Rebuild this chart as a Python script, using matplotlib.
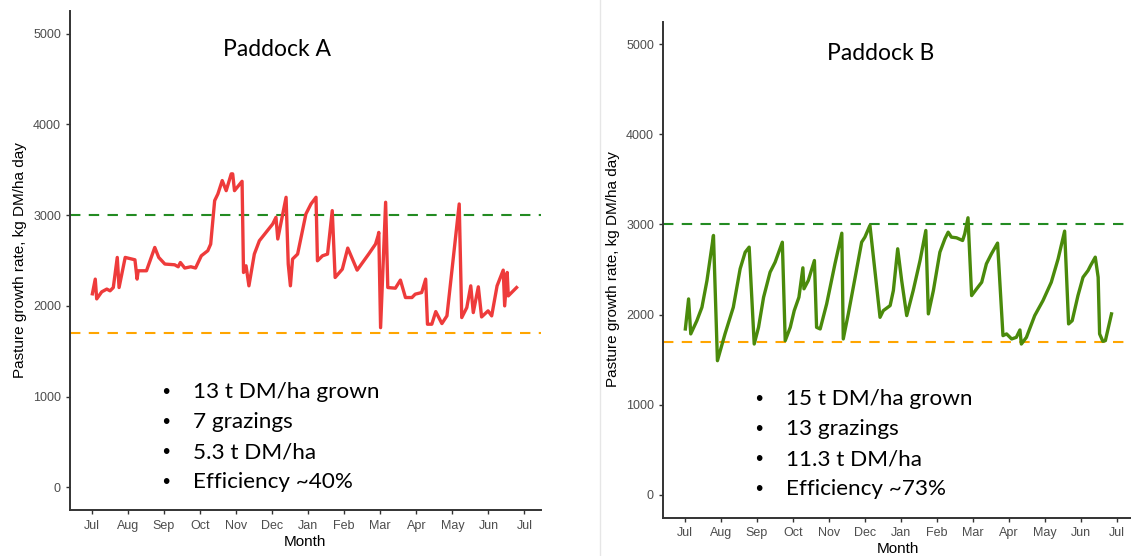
import matplotlib
matplotlib.use("Agg")
import matplotlib.pyplot as plt
import numpy as np

# months after 1 July (0 = Jul, 12 = next Jul), growth in kg DM/ha
month_a = [0.02, 0.10, 0.14, 0.28, 0.42, 0.51, 0.60, 0.71, 0.76, 0.93, 1.20, 1.26, 1.29,
           1.52, 1.75, 1.86, 2.03, 2.30, 2.40, 2.46, 2.58, 2.75, 2.88, 3.04, 3.22, 3.30,
           3.41, 3.50, 3.62, 3.73, 3.87, 3.91, 3.96, 4.17, 4.21, 4.28, 4.36, 4.51, 4.65,
           5.02, 5.11, 5.16, 5.39, 5.45, 5.51, 5.57, 5.71, 5.94, 6.08, 6.22, 6.26, 6.40,
           6.54, 6.67, 6.75, 6.95, 7.10, 7.36, 7.68, 7.87, 7.94, 7.96, 8.01, 8.15, 8.21,
           8.42, 8.56, 8.70, 8.88, 8.97, 9.15, 9.26, 9.31, 9.43, 9.54, 9.71, 9.85, 10.19,
           10.26, 10.40, 10.51, 10.58, 10.72, 10.81, 10.99, 11.09, 11.24, 11.41, 11.45,
           11.52, 11.55, 11.78]
growth_a = [2133, 2295, 2077, 2155, 2185, 2166, 2202, 2534, 2202, 2534, 2508, 2295, 2387,
            2387, 2644, 2534, 2461, 2453, 2431, 2478, 2417, 2431, 2417, 2552, 2608, 2681,
            3160, 3234, 3381, 3270, 3455, 3455, 3270, 3373, 2368, 2442, 2221, 2571, 2718,
            2903, 2976, 2737, 3197, 2461, 2221, 2516, 2571, 3013, 3123, 3197, 2497, 2552,
            2571, 3050, 2313, 2405, 2637, 2394, 2571, 2681, 2773, 2810, 1760, 3142, 2202,
            2195, 2284, 2092, 2092, 2129, 2147, 2295, 1798, 1798, 1937, 1805, 1890, 3123,
            1871, 1981, 2221, 1926, 2210, 1878, 1945, 1890, 2221, 2394, 2000,
            2368, 2110, 2202]

month_b = [0.02, 0.11, 0.17, 0.34, 0.48, 0.62, 0.74, 0.80, 0.91, 1.12, 1.35, 1.54, 1.68,
           1.79, 1.93, 2.05, 2.19, 2.37, 2.51, 2.71, 2.79, 2.93, 3.04, 3.17, 3.28, 3.31,
           3.43, 3.60, 3.66, 3.76, 3.94, 4.17, 4.36, 4.40, 4.54, 4.73, 4.91, 5.00, 5.14,
           5.42, 5.51, 5.70, 5.79, 5.91, 6.02, 6.16, 6.34, 6.53, 6.69, 6.76, 6.90, 7.08,
           7.22, 7.31, 7.40, 7.54, 7.71, 7.77, 7.86, 7.96, 8.10, 8.24, 8.37, 8.51, 8.68,
           8.83, 8.93, 9.07, 9.20, 9.30, 9.34, 9.48, 9.71, 9.94, 10.17, 10.36, 10.54,
           10.65, 10.75, 10.91, 11.05, 11.19, 11.26, 11.39, 11.47, 11.51, 11.60, 11.67,
           11.84]
growth_b = [1841, 2174, 1786, 1933, 2081, 2378, 2711, 2878, 1489, 1786, 2081, 2508, 2692,
            2748, 1674, 1859, 2192, 2470, 2581, 2803, 1711, 1859, 2044, 2192, 2519, 2286,
            2378, 2600, 1859, 1841, 2119, 2563, 2903, 1730, 2008, 2414, 2803, 2859, 2989,
            1970, 2044, 2100, 2267, 2730, 2378, 1989, 2267, 2600, 2933, 2008, 2267, 2692,
            2841, 2914, 2859, 2852, 2822, 2896, 3074, 2211, 2286, 2359, 2563, 2674, 2793,
            1767, 1786, 1730, 1748, 1830, 1674, 1748, 1989, 2156, 2359, 2619, 2926,
            1897, 1933, 2211, 2414, 2489, 2544, 2637, 2414, 1786, 1704, 1711,
            2008]

month_labels = ["Jul", "Aug", "Sep", "Oct", "Nov", "Dec", "Jan", "Feb", "Mar", "Apr",
                "May", "Jun", "Jul"]
y_ticks = [0, 1000, 2000, 3000, 4000, 5000]
upper_line = 3000
lower_line = 1700

titles = ["Paddock A", "Paddock B"]
notes_a = ["13 t DM/ha grown", "7 grazings", "5.3 t DM/ha", "Efficiency ~40%"]
notes_b = ["15 t DM/ha grown", "13 grazings", "11.3 t DM/ha", "Efficiency ~73%"]

fig = plt.figure(figsize=(11.31, 5.56), dpi=100)
plt.rcParams['font.family'] = ['Liberation Sans', 'DejaVu Sans']

ax_a = fig.add_axes([0.0619, 0.0827, 0.4162, 0.8975])
ax_b = fig.add_axes([0.5862, 0.0692, 0.4160, 0.8921])

# faint separator between the two panels
fig.add_artist(plt.Line2D([0.5305, 0.5305], [0, 1], color="#e6e6e6", lw=1))

panels = [(ax_a, month_a, growth_a, "#ee3b3b", titles[0], notes_a, 1046, 330, 5.15, 4830),
          (ax_b, month_b, growth_b, "#4a8a0b", titles[1], notes_b, 1064, 333, 5.45, 4900)]

for ax, mm, gg, col, title, notes, ytop, step, tx, ty in panels:
    ax.plot(mm, gg, color=col, lw=2.4, solid_joinstyle="round", zorder=3)
    ax.axhline(upper_line, color="#238b22", lw=1.5, ls=(0, (5, 4)))
    ax.axhline(lower_line, color="#ffa500", lw=1.5, ls=(0, (5, 4)))
    ax.set_xlim(-0.6, 12.45)
    ax.set_ylim(-250, 5250)
    ax.set_xticks(range(13))
    ax.set_xticklabels(month_labels)
    ax.set_yticks(y_ticks)
    ax.tick_params(axis="both", labelsize=9, labelcolor="#4d4d4d", color="#333333",
                   length=3, width=1)
    ax.tick_params(axis="x", pad=4)
    for s in ["top", "right"]:
        ax.spines[s].set_visible(False)
    for s in ["left", "bottom"]:
        ax.spines[s].set_color("#333333")
        ax.spines[s].set_linewidth(1.4)
    ax.set_xlabel("Month", fontsize=11, labelpad=2)
    ax.set_ylabel("Pasture growth rate, kg DM/ha day", fontsize=11, labelpad=4)
    ax.text(tx, ty, title, fontsize=16.5, family=["Lato", "DejaVu Sans"],
            ha="center", va="center")
    for i, n in enumerate(notes):
        yy = ytop - i * step
        ax.text(2.05, yy, "\u2022", fontsize=15, ha="center", va="center")
        ax.text(2.8, yy, n, fontsize=16.2, family=["Lato", "DejaVu Sans"],
                ha="left", va="center")

fig.savefig("out.png", dpi=100)
